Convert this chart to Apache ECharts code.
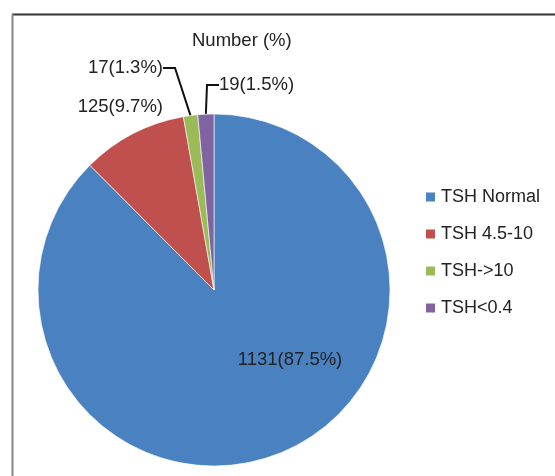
<!DOCTYPE html>
<html>
<head>
    <meta charset="utf-8">
    <title>TSH pie</title>
    <script src="https://cdn.jsdelivr.net/npm/echarts@6/dist/echarts.min.js"></script>
</head>
<body>
<style>
    html, body, #main {
        width: 100%;
        height: 100%;
        padding: 0;
        margin: 0;
        background: #fff;
    }
</style>
<div id="main"></div>
<script type="text/javascript">
    var categories = ['TSH Normal', 'TSH 4.5-10', 'TSH->10', 'TSH<0.4'];
    var counts = [1131, 125, 17, 19];
    var percents = [87.5, 9.7, 1.3, 1.5];
    var colors = ['#4a81c0', '#c0504d', '#9bbb59', '#8064a2'];

    // where each label sits
    var labelSpots = [
        {x: 290, y: 360, align: 'center'},
        {x: 163, y: 107, align: 'right'},
        {x: 163, y: 68, align: 'right'},
        {x: 219, y: 85, align: 'left'}
    ];

    var myChart = echarts.init(document.getElementById('main'));
    var font = '"Liberation Sans", Arial, sans-serif';

    var pieData = categories.map(function (name, i) {
        var withLine = i >= 2;
        return {
            name: name,
            value: counts[i],
            pct: percents[i],
            itemStyle: {color: colors[i]},
            labelLine: {show: withLine}
        };
    });

    myChart.setOption({
        animation: false,
        title: {
            text: 'Number (%)',
            left: 192,
            top: 31,
            padding: 0,
            textStyle: {fontFamily: font, fontSize: 18.5, fontWeight: 'normal', color: '#222'}
        },
        legend: {
            orient: 'vertical',
            left: 424,
            top: 188,
            padding: 0,
            itemWidth: 11,
            itemHeight: 11,
            itemGap: 19,
            icon: 'rect',
            selectedMode: false,
            data: categories,
            textStyle: {fontFamily: font, fontSize: 18, lineHeight: 18, color: '#222'}
        },
        graphic: [
            {type: 'line', shape: {x1: 12, y1: 14.5, x2: 555, y2: 14.5}, style: {stroke: '#333', lineWidth: 2}},
            {type: 'line', shape: {x1: 12.5, y1: 14, x2: 12.5, y2: 476}, style: {stroke: '#888', lineWidth: 2}}
        ],
        series: [{
            type: 'pie',
            center: [214, 290],
            radius: 176,
            startAngle: 90,
            clockwise: true,
            data: pieData,
            emphasis: {disabled: true},
            itemStyle: {borderColor: '#fff', borderWidth: 0.6},
            label: {
                show: true,
                position: 'outside',
                overflow: 'none',
                fontFamily: font,
                fontSize: 18.5,
                color: '#222',
                formatter: function (p) {
                    return p.value + '(' + p.data.pct.toFixed(1) + '%)';
                }
            },
            labelLine: {
                length: 10,
                length2: 12,
                smooth: false,
                lineStyle: {color: '#111', width: 2}
            },
            labelLayout: function (params) {
                var s = labelSpots[params.dataIndex];
                return {x: s.x, y: s.y, align: s.align, verticalAlign: 'middle'};
            }
        }]
    });
</script>
</body>
</html>
